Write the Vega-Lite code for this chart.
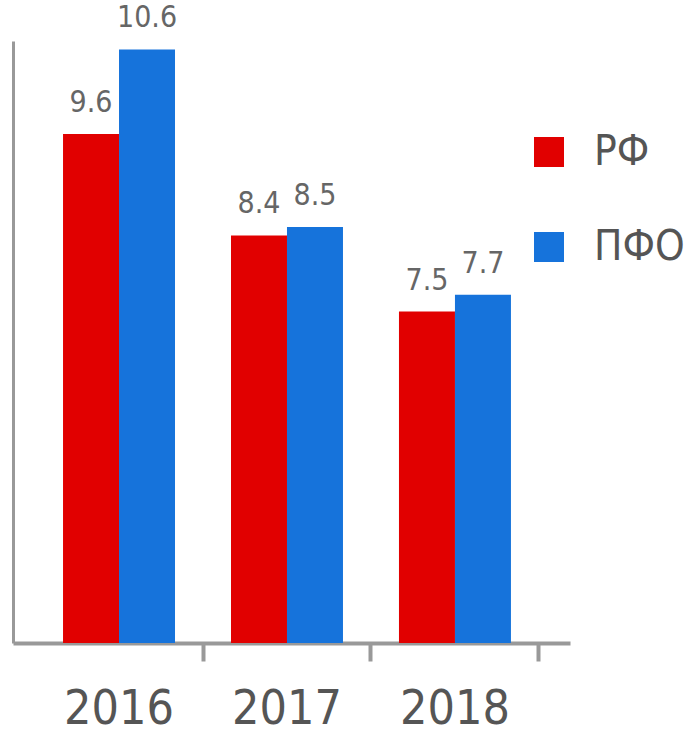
{
  "$schema": "https://vega.github.io/schema/vega-lite/v6.json",
  "width": 557,
  "height": 602,
  "padding": {"left": 13, "top": 3, "right": 0, "bottom": 0},
  "autosize": {"type": "pad"},
  "background": "white",
  "config": {"view": {"stroke": null}, "font": "Liberation Sans Narrow, DejaVu Sans Condensed, sans-serif"},
  "data": {"values": [
    {"year": "2016", "series": "РФ", "value": 9.6},
    {"year": "2016", "series": "ПФО", "value": 10.6},
    {"year": "2017", "series": "РФ", "value": 8.4},
    {"year": "2017", "series": "ПФО", "value": 8.5},
    {"year": "2018", "series": "РФ", "value": 7.5},
    {"year": "2018", "series": "ПФО", "value": 7.7}
  ]},
  "encoding": {
    "x": {"field": "year", "type": "nominal",
      "scale": {"paddingInner": 0, "paddingOuter": 0.158, "align": 0.415},
      "axis": {"title": null, "labelAngle": 0, "bandPosition": 1, "labelDx": -86,
        "labelFontSize": 48, "labelColor": "#555555", "labelPadding": 24,
        "labelFont": "Liberation Sans Narrow, DejaVu Sans Condensed, sans-serif",
        "tickSize": 18, "tickWidth": 4, "tickColor": "#999999",
        "domainColor": "#999999", "domainWidth": 4}},
    "xOffset": {"field": "series", "type": "nominal", "sort": ["РФ", "ПФО"],
      "scale": {"paddingInner": 0, "paddingOuter": 0.5}},
    "y": {"field": "value", "type": "quantitative",
      "scale": {"domain": [3.58, 10.7], "zero": false, "nice": false},
      "axis": {"title": null, "labels": false, "ticks": false, "grid": false,
        "domainColor": "#999999", "domainWidth": 3}}
  },
  "layer": [
    {"mark": {"type": "bar", "clip": true},
      "encoding": {
        "color": {"field": "series", "type": "nominal",
          "scale": {"domain": ["РФ", "ПФО"], "range": ["#e10000", "#1673db"]},
          "legend": {"title": null, "orient": "none", "legendX": 515, "legendY": 90,
            "symbolType": "square", "symbolSize": 900, "symbolStrokeWidth": 0,
            "labelFontSize": 42, "labelColor": "#555555", "labelOffset": 24,
            "labelFont": "Liberation Sans Narrow, DejaVu Sans Condensed, sans-serif",
            "rowPadding": 53}}
      }},
    {"mark": {"type": "text", "baseline": "bottom", "dy": -16, "fontSize": 30, "fill": "#666666",
        "font": "Liberation Sans Narrow, DejaVu Sans Condensed, sans-serif"},
      "encoding": {"text": {"field": "value", "type": "quantitative", "format": ".1f"}}}
  ]
}
